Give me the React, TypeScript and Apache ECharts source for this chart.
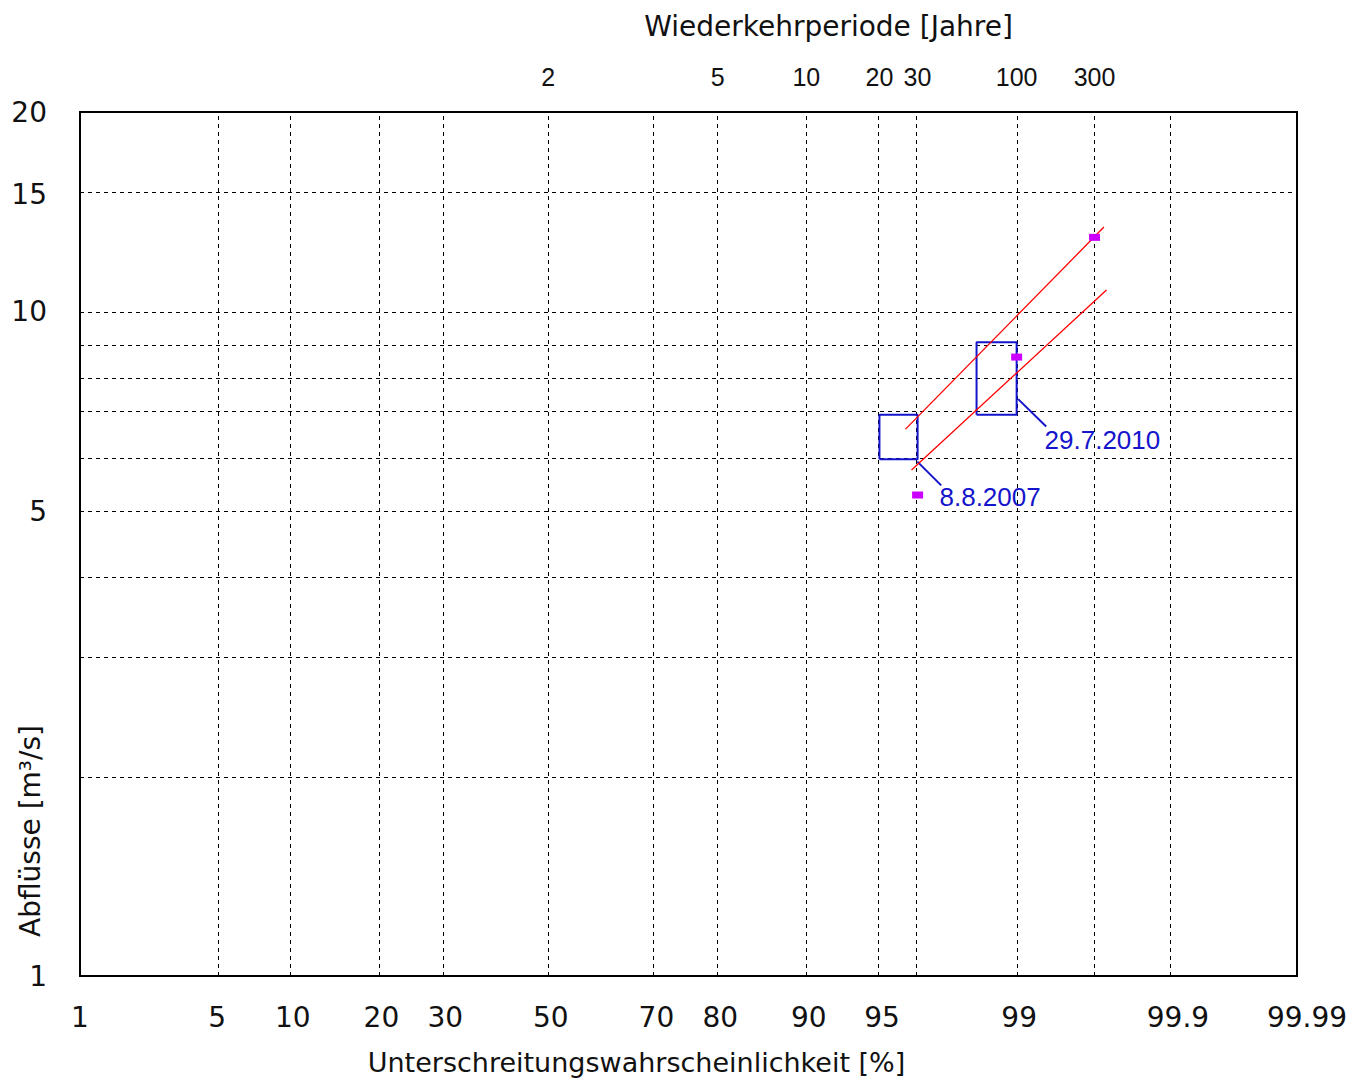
import { useEffect, useRef } from "react";
import * as echarts from "echarts";

// ---- axis ticks / grid ----
const probTicks = [1, 5, 10, 20, 30, 50, 70, 80, 90, 95, 99, 99.9, 99.99];
const returnPeriods = [2, 5, 10, 20, 30, 100, 300];
const flowTicks = [1, 5, 10, 15, 20];
const probGrid = [5, 10, 20, 30, 50, 70, 80, 90, 95, 99, 99.9];
const flowGrid = [2, 3, 4, 5, 6, 7, 8, 9, 10, 15];

// ---- events (boxes) ----
const eventNames = ["8.8.2007", "29.7.2010"];
const boxProbLow = [95, 98.33];
const boxProbHigh = [96.67, 99];
const boxFlowLow = [6, 7];
const boxFlowHigh = [7, 9];
const leaderProbStart = [96.66, 99.02];
const leaderFlowStart = [5.95, 7.39];
const leaderProbEnd = [97.45, 99.33];
const leaderFlowEnd = [5.48, 6.72];
const labelProb = [97.4, 99.315];
const labelFlow = [5.27, 6.42];

// ---- magenta points ----
const pointProb = [96.67, 99, 99.667];
const pointFlow = [5.3, 8.55, 12.95];

// ---- red lines ----
const line1Prob = [96.2, 99.711];
const line1Flow = [6.66, 13.42];
const line2Prob = [96.44, 99.722];
const line2Flow = [5.78, 10.79];

function normInv(p: number): number {
  const a = [-3.969683028665376e1, 2.209460984245205e2, -2.759285104469687e2, 1.38357751867269e2, -3.066479806614716e1, 2.506628277459239];
  const b = [-5.447609879822406e1, 1.615858368580409e2, -1.556989798598866e2, 6.680131188771972e1, -1.328068155288572e1];
  const c = [-7.784894002430293e-3, -3.223964580411365e-1, -2.400758277161838, -2.549671348400024, 4.374664141464968, 2.938163982698783];
  const d = [7.784695709041462e-3, 3.224671290700398e-1, 2.445134137142996, 3.754408661907416];
  const plow = 0.02425;
  const phigh = 1 - plow;
  if (p < plow) {
    const q = Math.sqrt(-2 * Math.log(p));
    return (((((c[0] * q + c[1]) * q + c[2]) * q + c[3]) * q + c[4]) * q + c[5]) / ((((d[0] * q + d[1]) * q + d[2]) * q + d[3]) * q + 1);
  }
  if (p <= phigh) {
    const q = p - 0.5;
    const r = q * q;
    return ((((((a[0] * r + a[1]) * r + a[2]) * r + a[3]) * r + a[4]) * r + a[5]) * q) / (((((b[0] * r + b[1]) * r + b[2]) * r + b[3]) * r + b[4]) * r + 1);
  }
  const q = Math.sqrt(-2 * Math.log(1 - p));
  return -(((((c[0] * q + c[1]) * q + c[2]) * q + c[3]) * q + c[4]) * q + c[5]) / ((((d[0] * q + d[1]) * q + d[2]) * q + d[3]) * q + 1);
}

const zx = (percent: number) => normInv(percent / 100);
const ly = (q: number) => Math.log10(q);
const tToPercent = (t: number) => 100 * (1 - 1 / t);

const X_MIN = zx(probTicks[0]);
const X_MAX = zx(probTicks[probTicks.length - 1]);
const Y_MIN = ly(flowTicks[0]);
const Y_MAX = ly(flowTicks[flowTicks.length - 1]);

const BLUE = "#1414cc";
const TXT = "#111";

function nearestIndex(v: number, vals: number[]) {
  let best = 0;
  let bd = Infinity;
  vals.forEach((x, i) => {
    const dd = Math.abs(x - v);
    if (dd < bd) {
      bd = dd;
      best = i;
    }
  });
  return best;
}

const bottomRich: Record<string, any> = {};
for (let n = 1; n <= 5; n++) {
  bottomRich["s" + n] = {
    fontFamily: "DejaVu Sans",
    fontSize: 28,
    color: TXT,
    padding: [0, 0, 0, (n - 1) * 5],
  };
}

export default function App() {
  const ref = useRef<HTMLDivElement>(null);

  useEffect(() => {
    if (!ref.current) return;
    const chart = echarts.init(ref.current, undefined, { renderer: "svg" });

    const bottomVals = probTicks.map(zx);
    const topVals = returnPeriods.map((t) => zx(tToPercent(t)));
    const yVals = flowTicks.map(ly);

    const vGrid = [...probGrid, ...returnPeriods.map(tToPercent)].map((p) => ({ xAxis: zx(p) }));
    const hGrid = flowGrid.map((q) => ({ yAxis: ly(q) }));

    const boxSeries = eventNames.map((name, i) => ({
      type: "line",
      name: "box " + name,
      symbol: "none",
      silent: true,
      z: 5,
      lineStyle: { color: BLUE, width: 2 },
      data: [
        [zx(boxProbLow[i]), ly(boxFlowLow[i])],
        [zx(boxProbHigh[i]), ly(boxFlowLow[i])],
        [zx(boxProbHigh[i]), ly(boxFlowHigh[i])],
        [zx(boxProbLow[i]), ly(boxFlowHigh[i])],
        [zx(boxProbLow[i]), ly(boxFlowLow[i])],
      ],
    }));

    const leaderSeries = eventNames.map((name, i) => ({
      type: "line",
      name: "leader " + name,
      symbol: "none",
      silent: true,
      z: 5,
      lineStyle: { color: BLUE, width: 2 },
      data: [
        [zx(leaderProbStart[i]), ly(leaderFlowStart[i])],
        [zx(leaderProbEnd[i]), ly(leaderFlowEnd[i])],
      ],
    }));

    const redSeries = [
      [line1Prob, line1Flow],
      [line2Prob, line2Flow],
    ].map(([ps, qs], i) => ({
      type: "line",
      name: "fit " + (i + 1),
      symbol: "none",
      silent: true,
      z: 6,
      lineStyle: { color: "#ff0000", width: 1.3 },
      data: ps.map((p, j) => [zx(p), ly(qs[j])]),
    }));

    chart.setOption({
      animation: false,
      backgroundColor: "#fff",
      grid: {
        left: 80,
        right: 75,
        top: 112,
        bottom: 108,
        show: true,
        borderColor: "#000",
        borderWidth: 2,
        backgroundColor: "transparent",
        containLabel: false,
        outerBoundsMode: "none",
      },
      xAxis: [
        {
          type: "value",
          position: "bottom",
          min: X_MIN,
          max: X_MAX,
          axisLine: { show: false },
          axisTick: { show: false },
          splitLine: { show: false },
          axisLabel: {
            customValues: bottomVals,
            formatter: (v: number) => {
              const s = String(probTicks[nearestIndex(v, bottomVals)]);
              return "{s" + s.length + "|" + s + "}";
            },
            rich: bottomRich,
            fontFamily: "DejaVu Sans",
            fontSize: 28,
            color: TXT,
            margin: 27,
          },
          name: "Unterschreitungswahrscheinlichkeit [%]",
          nameLocation: "middle",
          nameGap: 73,
          nameTextStyle: {
            fontFamily: "DejaVu Sans",
            fontSize: 27,
            color: TXT,
            padding: [0, 104, 0, 0],
          },
        },
        {
          type: "value",
          position: "top",
          min: X_MIN,
          max: X_MAX,
          axisLine: { show: false },
          axisTick: { show: false },
          splitLine: { show: false },
          axisLabel: {
            customValues: topVals,
            formatter: (v: number) => String(returnPeriods[nearestIndex(v, topVals)]),
            fontFamily: "Liberation Sans",
            fontSize: 25,
            color: TXT,
            margin: 23,
          },
          name: "Wiederkehrperiode [Jahre]",
          nameLocation: "middle",
          nameGap: 72,
          nameTextStyle: {
            fontFamily: "DejaVu Sans",
            fontSize: 28,
            color: TXT,
            padding: [0, 0, 0, 280],
          },
        },
      ],
      yAxis: {
        type: "value",
        min: Y_MIN,
        max: Y_MAX,
        axisLine: { show: false },
        axisTick: { show: false },
        splitLine: { show: false },
        axisLabel: {
          customValues: yVals,
          formatter: (v: number) => String(flowTicks[nearestIndex(v, yVals)]),
          fontFamily: "DejaVu Sans",
          fontSize: 28,
          color: TXT,
          margin: 33,
        },
      },
      graphic: [
        {
          type: "text",
          x: 30,
          y: 831,
          rotation: Math.PI / 2,
          style: {
            text: "Abflüsse [m³/s]",
            fontFamily: "DejaVu Sans",
            fontSize: 28,
            fill: TXT,
            align: "center",
            verticalAlign: "middle",
          },
        },
      ],
      series: [
        {
          type: "line",
          name: "grid",
          data: [],
          silent: true,
          z: 1,
          markLine: {
            silent: true,
            symbol: "none",
            label: { show: false },
            lineStyle: { color: "#000", width: 1, type: [4, 4] },
            emphasis: { disabled: true },
            data: [...vGrid, ...hGrid],
          },
        },
        ...redSeries,
        ...boxSeries,
        ...leaderSeries,
        {
          type: "scatter",
          name: "points",
          symbol: "rect",
          symbolSize: [11, 7],
          itemStyle: { color: "#cc00ff", opacity: 1 },
          silent: true,
          z: 7,
          data: pointProb.map((p, i) => [zx(p), ly(pointFlow[i])]),
        },
        {
          type: "scatter",
          name: "labels",
          symbolSize: 0,
          silent: true,
          z: 8,
          itemStyle: { color: BLUE, opacity: 1 },
          data: eventNames.map((n, i) => ({ name: n, value: [zx(labelProb[i]), ly(labelFlow[i])] })),
          label: {
            show: true,
            position: "right",
            distance: 0,
            formatter: (p: any) => p.name,
            fontFamily: "Liberation Sans",
            fontSize: 26,
            color: BLUE,
            opacity: 1,
          },
        },
      ],
    });

    return () => chart.dispose();
  }, []);

  return (
    <div
      ref={ref}
      style={{ position: "absolute", left: 0, top: 0, width: 1372, height: 1084 }}
    />
  );
}
